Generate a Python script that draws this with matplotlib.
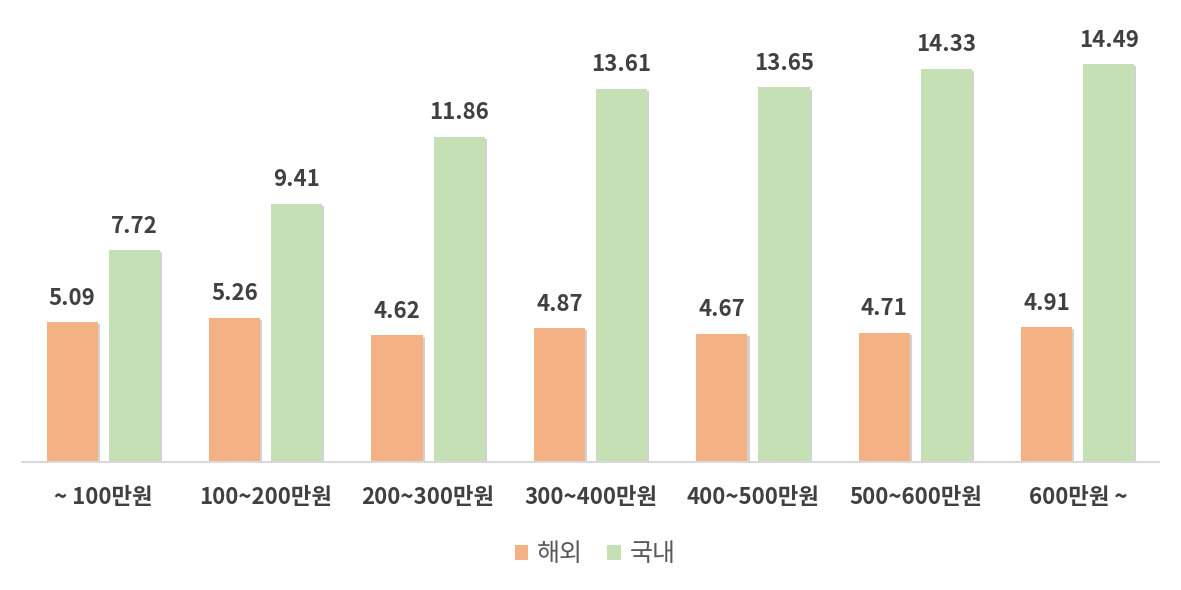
import matplotlib
matplotlib.use("Agg")
import matplotlib.pyplot as plt
import matplotlib.patheffects as pe
import numpy as np

plt.rcParams['font.family'] = ['Noto Sans CJK KR', 'DejaVu Sans']

categories = ["~ 100만원", "100~200만원", "200~300만원", "300~400만원", "400~500만원", "500~600만원", "600만원 ~"]
overseas = [5.09, 5.26, 4.62, 4.87, 4.67, 4.71, 4.91]
domestic = [7.72, 9.41, 11.86, 13.61, 13.65, 14.33, 14.49]
series_names = ["해외", "국내"]

c_orange = "#F4B183"
c_green = "#C5E0B4"
txt = "#404040"

fig = plt.figure(figsize=(11.81, 5.90), dpi=100)
ax = fig.add_axes([22/1181, 128/590, 1137/1181, 461/590])

x = np.arange(len(categories))
w = 0.315
off = 0.191
shadow = [pe.SimplePatchShadow(offset=(1.5, -1.5), shadow_rgbFace="#7f7f7f", alpha=0.35), pe.Normal()]
b1 = ax.bar(x - off, overseas, w, color=c_orange, label=series_names[0], zorder=2)
b2 = ax.bar(x + off, domestic, w, color=c_green, label=series_names[1], zorder=2)
for b in list(b1) + list(b2):
    b.set_path_effects(shadow)

for xi, v in zip(x - off, overseas):
    ax.annotate(f"{v:.2f}", (xi, v), xytext=(0, 9), textcoords="offset points",
                ha="center", va="bottom", fontsize=16, fontweight="bold", color=txt)
for xi, v in zip(x + off, domestic):
    ax.annotate(f"{v:.2f}", (xi, v), xytext=(0, 9), textcoords="offset points",
                ha="center", va="bottom", fontsize=16, fontweight="bold", color=txt)

ax.set_xlim(-0.5, 6.5)
ax.set_ylim(0, 16.8)
ax.set_yticks([])
ax.set_xticks(x)
ax.set_xticklabels(categories, fontsize=16, fontweight="bold", color=txt)
ax.tick_params(axis="x", length=0, pad=17)
for s in ["top", "right", "left"]:
    ax.spines[s].set_visible(False)
ax.spines["bottom"].set_color("#D9D9D9")
ax.spines["bottom"].set_linewidth(1.5)

leg = fig.legend(handles=[b1, b2], labels=series_names, loc="center", bbox_to_anchor=(595/1181, 1 - 554/590),
                 ncol=2, frameon=False, fontsize=18, handlelength=0.55, handleheight=0.55,
                 handletextpad=0.35, columnspacing=0.95)
for t in leg.get_texts():
    t.set_color("#595959")
for h in leg.legend_handles:
    h.set_path_effects([])

fig.savefig("out.png", dpi=100)
